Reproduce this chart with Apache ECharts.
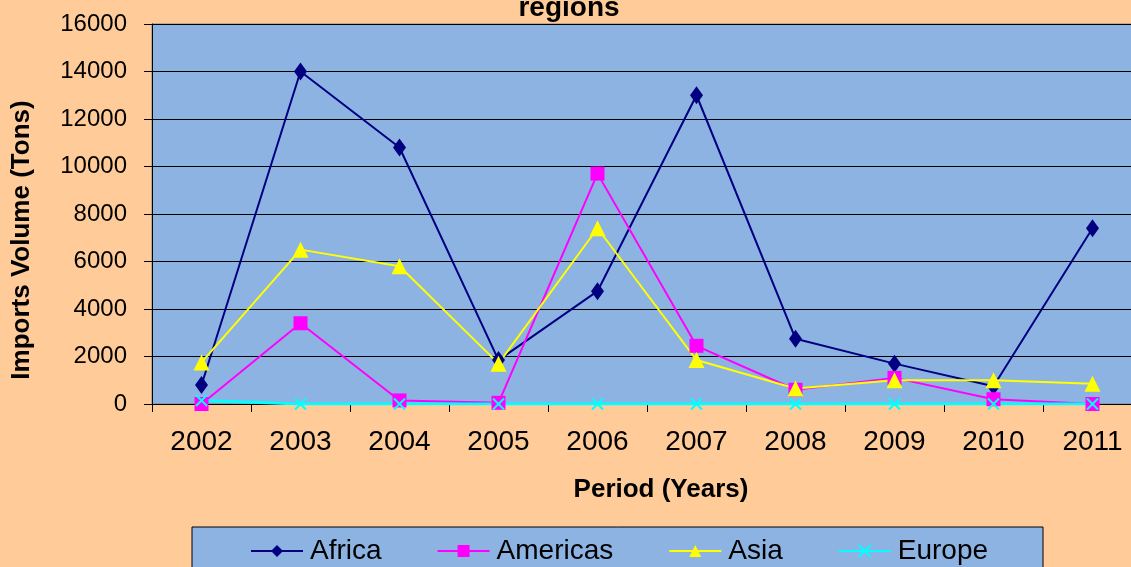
<!DOCTYPE html>
<html>
<head>
<meta charset="utf-8">
<script src="https://cdn.jsdelivr.net/npm/echarts@6/dist/echarts.min.js"></script>
<style>
  html, body { margin: 0; padding: 0; background: #FFCC99; }
  #main { width: 1131px; height: 567px; }
</style>
</head>
<body>
<div id="main"></div>
<script>
  // Chart data
  var years = ['2002', '2003', '2004', '2005', '2006', '2007', '2008', '2009', '2010', '2011'];
  var africa = [800, 14000, 10800, 1850, 4750, 13000, 2750, 1700, 750, 7400];
  var americas = [0, 3400, 150, 50, 9700, 2450, 600, 1100, 200, 0];
  var asia = [1750, 6500, 5800, 1700, 7400, 1850, 650, 1000, 1000, 850];
  var europe = [150, 0, 0, 0, 0, 0, 0, 0, 0, 0];

  var font = 'Liberation Sans, Arial, sans-serif';
  var crossPath = 'path://M0,0L10,10M10,0L0,10';

  /**
   * @name makeSeries
   * @desc builds one line series
   */
  function makeSeries(name, values, color, symbol, size, width) {
    return {
      name: name,
      type: 'line',
      data: values,
      symbol: symbol,
      symbolSize: size,
      showAllSymbol: true,
      lineStyle: { color: color, width: width },
      itemStyle: { color: color, borderColor: color, borderWidth: symbol === crossPath ? 2 : 0 },
      emphasis: { disabled: true },
      z: 3
    };
  }

  var myChart = echarts.init(document.getElementById('main'));

  var option = {
    backgroundColor: '#FFCC99',
    animation: false,
    textStyle: { fontFamily: font },
    title: {
      text: 'regions',
      left: 564,
      textAlign: 'center',
      top: -11,
      textStyle: { fontFamily: font, fontWeight: 'bold', fontSize: 28, color: '#000' }
    },
    grid: {
      left: 152,
      top: 24,
      right: -11,
      bottom: 163,
      outerBoundsMode: 'none',
      backgroundColor: '#8DB3E2',
      borderColor: '#808080',
      borderWidth: 1,
      show: true
    },
    graphic: [
      {
        type: 'rect',
        shape: { x: 192, y: 527, width: 851, height: 60 },
        style: { fill: '#8DB3E2', stroke: '#000', lineWidth: 1 },
        z: 0
      }
    ],
    legend: {
      left: 250,
      top: 537,
      padding: 0,
      itemWidth: 52,
      itemHeight: 15,
      itemGap: 55,
      textStyle: { fontFamily: font, fontSize: 28, color: '#000', padding: [0, 0, 0, 2] },
      data: ['Africa', 'Americas', 'Asia', 'Europe']
    },
    xAxis: {
      type: 'category',
      data: years,
      boundaryGap: true,
      name: 'Period (Years)',
      nameLocation: 'center',
      nameGap: 73,
      nameTextStyle: { fontFamily: font, fontWeight: 'bold', fontSize: 26, color: '#000', padding: [0, 0, 0, 28] },
      axisLine: { lineStyle: { color: '#000', width: 1 } },
      axisTick: { show: true, inside: false, length: 8, lineStyle: { color: '#000' } },
      axisLabel: { fontFamily: font, fontSize: 28, color: '#000', margin: 24 },
      splitLine: { show: false }
    },
    yAxis: {
      type: 'value',
      min: 0,
      max: 16000,
      interval: 2000,
      name: 'Imports Volume (Tons)',
      nameLocation: 'center',
      nameRotate: 90,
      nameGap: 117,
      nameTextStyle: { fontFamily: font, fontWeight: 'bold', fontSize: 26, color: '#000', padding: [0, 52, 0, 0] },
      axisLine: { show: true, lineStyle: { color: '#000', width: 1 } },
      axisTick: { show: true, inside: false, length: 8, lineStyle: { color: '#000' } },
      axisLabel: { fontFamily: font, fontSize: 24, color: '#000', margin: 25, formatter: function (v) { return String(v); } },
      splitLine: { show: true, lineStyle: { color: '#000', width: 1 } }
    },
    series: [
      makeSeries('Africa', africa, '#000080', 'diamond', [13, 18], 2),
      makeSeries('Americas', americas, '#FF00FF', 'rect', 14, 2),
      makeSeries('Asia', asia, '#FFFF00', 'triangle', 16, 2),
      makeSeries('Europe', europe, '#00FFFF', crossPath, 11, 3)
    ]
  };

  myChart.setOption(option);
</script>
</body>
</html>
